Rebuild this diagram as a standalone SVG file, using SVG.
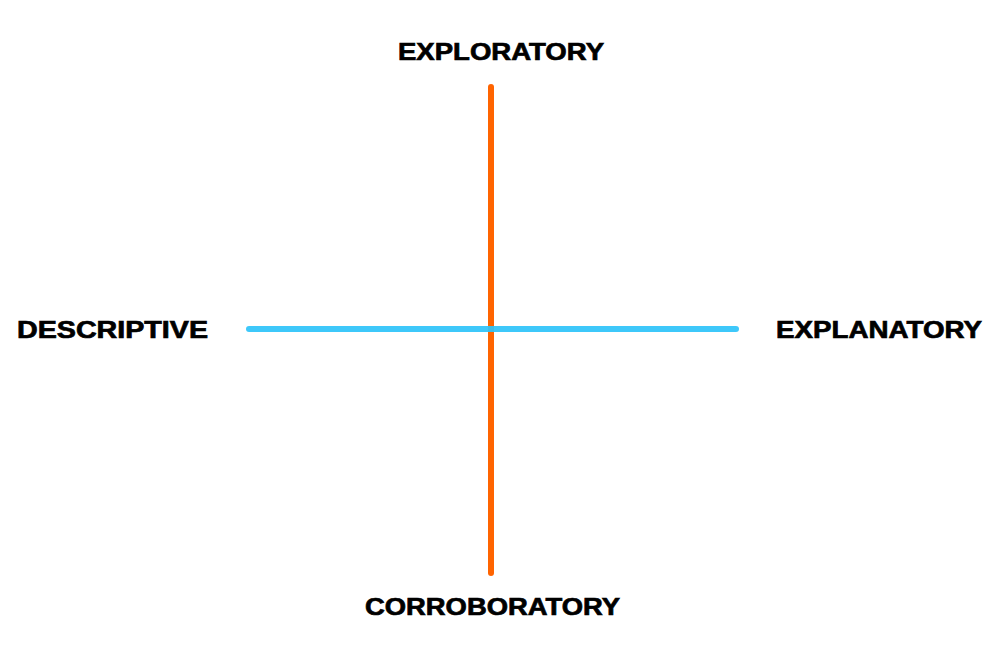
<svg xmlns="http://www.w3.org/2000/svg" width="1000" height="659" viewBox="0 0 1000 659">
<style>
.lbl{font-family:"Liberation Sans",Arial,sans-serif;font-weight:bold;font-size:24px;fill:#000;stroke:#000;stroke-width:0.7px;}
.ax{stroke-width:6;stroke-linecap:round;fill:none;}
</style>
<rect width="1000" height="659" fill="#fff"/>
<g id="connectors">
<line class="ax" x1="491" y1="87" x2="491" y2="573" stroke="#ff6400"/>
<line class="ax" x1="249" y1="329" x2="736" y2="329" stroke="#2ec3fa" stroke-opacity="0.92"/>
</g>
<g id="exploratory"><text class="lbl" x="398" y="60" textLength="206" lengthAdjust="spacingAndGlyphs">EXPLORATORY</text></g>
<g id="descriptive"><text class="lbl" x="17" y="338" textLength="191" lengthAdjust="spacingAndGlyphs">DESCRIPTIVE</text></g>
<g id="explanatory"><text class="lbl" x="776" y="338" textLength="206" lengthAdjust="spacingAndGlyphs">EXPLANATORY</text></g>
<g id="corroboratory"><text class="lbl" x="365" y="615" textLength="255" lengthAdjust="spacingAndGlyphs">CORROBORATORY</text></g>
</svg>
